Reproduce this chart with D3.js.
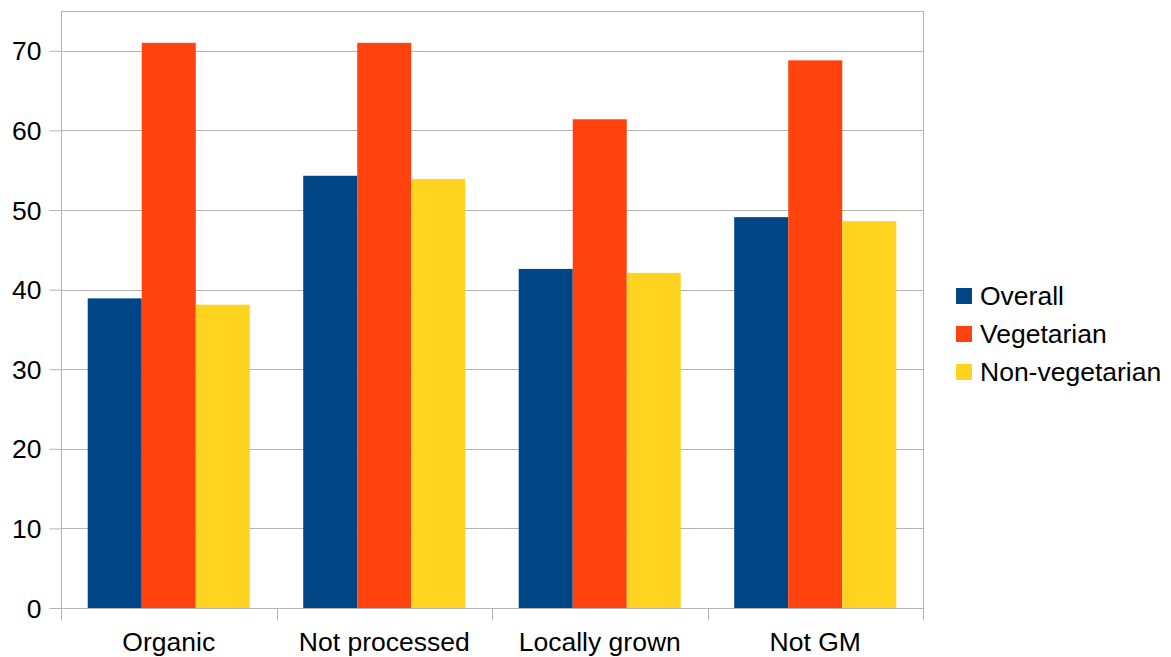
<!DOCTYPE html>
<html lang="en">
<head>
<meta charset="UTF-8">
<title>Grouped Bar Chart</title>
<script src="https://cdn.jsdelivr.net/npm/d3@7/dist/d3.min.js"></script>
<style>
  html, body { margin: 0; padding: 0; background: #fff; }
  svg text { font-family: "Liberation Sans", Arial, sans-serif; fill: #000; }
</style>
</head>
<body>
<svg id="chart" width="1171" height="657"></svg>
<script>
// data
var categories = ["Organic", "Not processed", "Locally grown", "Not GM"];
var seriesNames = ["Overall", "Vegetarian", "Non-vegetarian"];
var overall = [38.9, 54.3, 42.6, 49.1];
var vegetarian = [71.0, 71.0, 61.4, 68.8];
var nonVegetarian = [38.1, 53.9, 42.1, 48.6];
var yTicks = [0, 10, 20, 30, 40, 50, 60, 70];
var colors = ["#004586", "#ff420e", "#ffd320"];

var series = [overall, vegetarian, nonVegetarian];
var data = categories.map(function(c, i) {
    return { cat: c, values: seriesNames.map(function(s, j) { return { key: s, v: series[j][i] }; }) };
});

var svg = d3.select("#chart");
// plot area (note: "top" is reserved on window, so use plot* names)
var plotL = 61, plotR = 923, plotT = 11, plotB = 608;
var grid = "#b3b3b3";

var x0 = d3.scaleBand().domain(categories).range([plotL, plotR]);
var bw = x0.bandwidth();
var x1 = d3.scaleBand().domain(seriesNames).range([bw * 0.124, bw * 0.876]);
var y = d3.scaleLinear().domain([0, 75]).range([plotB, plotT]);
var color = d3.scaleOrdinal().domain(seriesNames).range(colors);

// frame
svg.append("rect")
    .attr("x", plotL + 0.5).attr("y", plotT + 0.5)
    .attr("width", plotR - plotL).attr("height", plotB - plotT)
    .attr("fill", "none").attr("stroke", grid).attr("stroke-width", 1);

// gridlines
svg.append("g").selectAll("line")
    .data(yTicks.filter(function(t) { return t > 0; }))
    .enter().append("line")
    .attr("x1", plotL).attr("x2", plotR)
    .attr("y1", function(d) { return Math.round(y(d)) + 0.5; })
    .attr("y2", function(d) { return Math.round(y(d)) + 0.5; })
    .attr("stroke", grid).attr("stroke-width", 1);

// bars
var groups = svg.append("g").selectAll("g")
    .data(data)
    .enter().append("g")
    .attr("transform", function(d) { return "translate(" + x0(d.cat) + ",0)"; });

groups.selectAll("rect")
    .data(function(d) { return d.values; })
    .enter().append("rect")
    .attr("x", function(d) { return x1(d.key); })
    .attr("width", x1.bandwidth())
    .attr("y", function(d) { return y(d.v); })
    .attr("height", function(d) { return y(0) - y(d.v); })
    .attr("fill", function(d) { return color(d.key); });

// y axis
var yAxis = svg.append("g")
    .attr("transform", "translate(" + (plotL + 0.5) + ",0)")
    .call(d3.axisLeft(y).tickValues(yTicks).tickSize(12).tickPadding(8));
yAxis.select(".domain").attr("stroke", grid).attr("d", "M0," + plotT + "V" + plotB);
yAxis.selectAll(".tick line").attr("stroke", grid);
yAxis.selectAll(".tick text").style("font-size", "26.5px").attr("dy", "0.34em");

// x axis: ticks at category boundaries
var xAxis = svg.append("g").attr("transform", "translate(0," + (plotB + 0.5) + ")");
xAxis.append("line").attr("x1", plotL).attr("x2", plotR + 1).attr("stroke", grid);
var bounds = categories.map(function(c) { return x0(c); }).concat([plotR]);
xAxis.selectAll(".bt").data(bounds).enter().append("line")
    .attr("class", "bt")
    .attr("x1", function(d) { return Math.round(d) + 0.5; })
    .attr("x2", function(d) { return Math.round(d) + 0.5; })
    .attr("y1", 0).attr("y2", 12).attr("stroke", grid);
xAxis.selectAll(".lbl").data(categories).enter().append("text")
    .attr("class", "lbl")
    .attr("x", function(d) { return x0(d) + bw / 2; })
    .attr("y", 42)
    .attr("text-anchor", "middle")
    .style("font-size", "26.5px")
    .text(function(d) { return d; });

// legend
var legend = svg.append("g").selectAll("g")
    .data(seriesNames)
    .enter().append("g")
    .attr("transform", function(d, i) { return "translate(956," + (296 + i * 38) + ")"; });
legend.append("rect")
    .attr("x", 0).attr("y", -8).attr("width", 16).attr("height", 16)
    .attr("fill", function(d) { return color(d); });
legend.append("text")
    .attr("x", 24).attr("dy", "0.33em")
    .style("font-size", "26.5px")
    .text(function(d) { return d; });
</script>
</body>
</html>
